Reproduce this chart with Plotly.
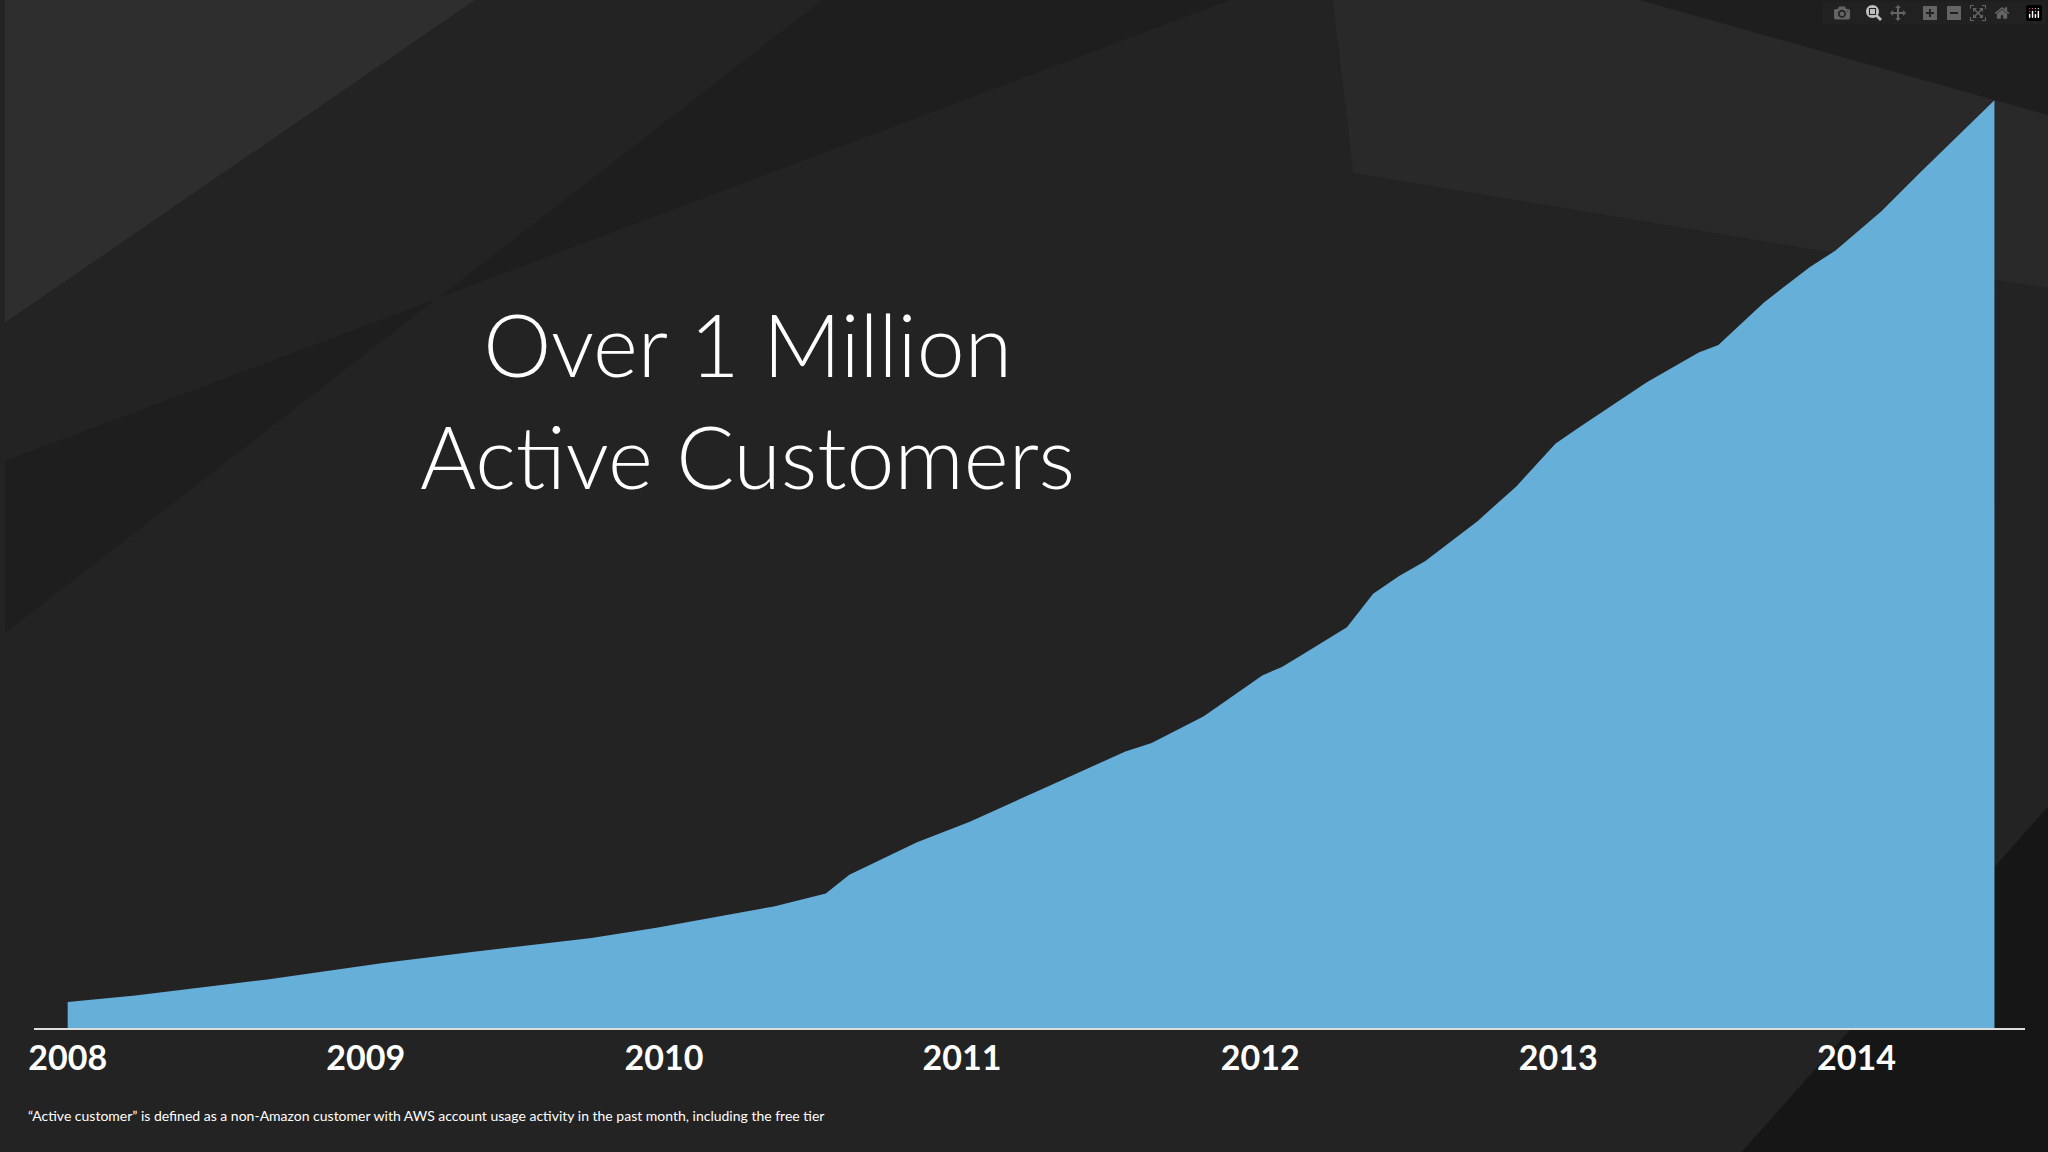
import plotly.graph_objects as go

years = [2008.000,2008.227,2008.664,2009.058,2009.363,2009.757,2009.975,2010.369,2010.543,2010.622,
         2010.849,2011.024,2011.286,2011.548,2011.636,2011.811,2012.007,2012.073,2012.160,2012.291,
         2012.379,2012.466,2012.553,2012.728,2012.860,2012.991,2013.078,2013.297,2013.471,2013.537,
         2013.690,2013.843,2013.930,2014.083,2014.214,2014.345,2014.463,2014.4631]
customers_k = [28,35,52,70,82,97,108,131,145,165,200,222,260,298,307,336,380,389,406,432,
               468,487,503,546,584,630,649,696,728,736,782,820,838,880,922,963,1000,0]
tick_years = [2008,2009,2010,2011,2012,2013,2014]

fig = go.Figure()
fig.add_trace(go.Scatter(x=years, y=customers_k, mode="lines", line=dict(width=0),
                         fill="tozeroy", fillcolor="#66afd9", hoverinfo="skip"))

shapes = []
facets = [
    ([(0,1),(0.23,1),(0,0.72)], "rgba(255,255,255,0.05)"),
    ([(0,0.45),(0.4,1),(0.6,1),(0,0.6)], "rgba(0,0,0,0.12)"),
    ([(0.65,1),(1,1),(1,0.75),(0.66,0.85)], "rgba(255,255,255,0.03)"),
    ([(0.85,0),(1,0),(1,0.3)], "rgba(0,0,0,0.35)"),
    ([(0.8,1),(1,1),(1,0.9)], "rgba(0,0,0,0.25)"),
]
for pts, col in facets:
    path = "M " + " L ".join(f"{x},{y}" for x, y in pts) + " Z"
    shapes.append(dict(type="path", xref="paper", yref="paper", path=path,
                       fillcolor=col, line=dict(width=0), layer="below"))

fig.update_layout(
    width=2048, height=1152, margin=dict(l=0, r=0, t=0, b=0),
    paper_bgcolor="#232323", plot_bgcolor="rgba(0,0,0,0)", showlegend=False,
    shapes=shapes,
    xaxis=dict(domain=[22/1568, 1550/1568], range=[2007.886, 2014.564],
               tickvals=tick_years, ticktext=[str(t) for t in tick_years],
               showgrid=False, zeroline=False, showline=True, linecolor="#dddddd", linewidth=1.5,
               ticks="", tickfont=dict(family="Lato", size=34, color="white", weight="bold")),
    yaxis=dict(domain=[95/882, 1], range=[0, 1108], visible=False),
    annotations=[
        dict(text="Over 1 Million<br>Active Customers", xref="paper", yref="paper",
             x=570/1568, y=1-306/882, xanchor="center", yanchor="middle",
             showarrow=False, align="center",
             font=dict(family="Lato", size=86, color="white", weight=300)),
        dict(text="“Active customer” is defined as a non-Amazon customer with AWS account usage activity in the past month, including the free tier",
             xref="paper", yref="paper", x=16/1568, y=1-854/882, xanchor="left", yanchor="middle",
             showarrow=False, font=dict(family="Lato", size=14, color="white")),
    ],
)
fig.write_html("out.html", post_script="document.body.style.margin='0';document.body.style.background='#232323';")
